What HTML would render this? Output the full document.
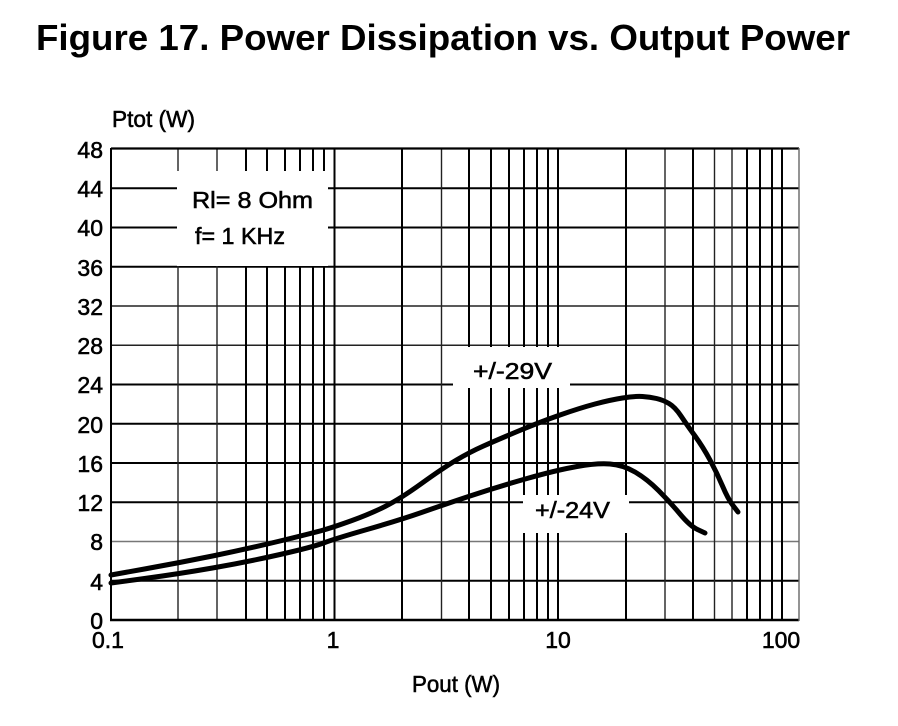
<!DOCTYPE html>
<html>
<head>
<meta charset="utf-8">
<style>
  html,body{margin:0;padding:0;background:#fff;}
  body{width:898px;height:726px;overflow:hidden;position:relative;}
  svg{position:absolute;left:0;top:0;}
  text{font-family:"Liberation Sans", Arial, sans-serif;fill:#000;}
  .lbl{stroke:#000;stroke-width:0.55px;}
</style>
</head>
<body>
<svg width="898" height="726" viewBox="0 0 898 726" xmlns="http://www.w3.org/2000/svg">
  <rect x="0" y="0" width="898" height="726" fill="#fff"/>

  <!-- Title -->
  <text x="36" y="50" font-size="36" font-weight="bold" textLength="814" lengthAdjust="spacingAndGlyphs">Figure 17. Power Dissipation vs. Output Power</text>

  <!-- Horizontal gridlines -->
  <g stroke="#000" stroke-width="2">
    <line x1="111" y1="580.75" x2="799" y2="580.75"/>
    <line x1="111" y1="502.25" x2="799" y2="502.25"/>
    <line x1="111" y1="463" x2="799" y2="463"/>
    <line x1="111" y1="423.75" x2="799" y2="423.75"/>
    <line x1="111" y1="384.5" x2="799" y2="384.5"/>
    <line x1="111" y1="266.75" x2="799" y2="266.75"/>
    <line x1="111" y1="227.5" x2="799" y2="227.5"/>
    <line x1="111" y1="188.25" x2="799" y2="188.25"/>
  </g>
  <g stroke="#222" stroke-width="1.4">
    <line x1="111" y1="345.25" x2="799" y2="345.25"/>
    <line x1="111" y1="306" x2="799" y2="306"/>
  </g>
  <line x1="111" y1="541.5" x2="799" y2="541.5" stroke="#777" stroke-width="1.6"/>

  <!-- Vertical gridlines -->
  <g stroke="#000" stroke-width="2">
    <line x1="246" y1="149" x2="246" y2="620"/>
    <line x1="267" y1="149" x2="267" y2="620"/>
    <line x1="285" y1="149" x2="285" y2="620"/>
    <line x1="300" y1="149" x2="300" y2="620"/>
    <line x1="313" y1="149" x2="313" y2="620"/>
    <line x1="324" y1="149" x2="324" y2="620"/>
    <line x1="334.5" y1="149" x2="334.5" y2="620"/>
    <line x1="402" y1="149" x2="402" y2="620"/>
    <line x1="469" y1="149" x2="469" y2="620"/>
    <line x1="491" y1="149" x2="491" y2="620"/>
    <line x1="509" y1="149" x2="509" y2="620"/>
    <line x1="524" y1="149" x2="524" y2="620"/>
    <line x1="537" y1="149" x2="537" y2="620"/>
    <line x1="548" y1="149" x2="548" y2="620"/>
    <line x1="558" y1="149" x2="558" y2="620"/>
    <line x1="626" y1="149" x2="626" y2="620"/>
    <line x1="693" y1="149" x2="693" y2="620"/>
    <line x1="747" y1="149" x2="747" y2="620"/>
    <line x1="760" y1="149" x2="760" y2="620"/>
    <line x1="772" y1="149" x2="772" y2="620"/>
    <line x1="782" y1="149" x2="782" y2="620"/>
  </g>
  <g stroke="#222" stroke-width="1.4">
    <line x1="178" y1="149" x2="178" y2="620"/>
    <line x1="217" y1="149" x2="217" y2="620"/>
    <line x1="441.5" y1="149" x2="441.5" y2="620"/>
    <line x1="665" y1="149" x2="665" y2="620"/>
    <line x1="714.5" y1="149" x2="714.5" y2="620"/>
    <line x1="732" y1="149" x2="732" y2="620"/>
  </g>

  <!-- Borders -->
  <line x1="111" y1="148.5" x2="799" y2="148.5" stroke="#000" stroke-width="2.2"/>
  <line x1="110" y1="620" x2="799" y2="620" stroke="#000" stroke-width="2.4"/>
  <line x1="111" y1="148" x2="111" y2="621" stroke="#000" stroke-width="2"/>
  <line x1="799" y1="148" x2="799" y2="621" stroke="#666" stroke-width="1.4"/>

  <!-- White label boxes -->
  <rect x="177" y="171" width="151" height="95" fill="#fff"/>
  <rect x="453" y="347" width="117" height="41" fill="#fff"/>
  <rect x="523" y="495" width="106" height="38" fill="#fff"/>

  <!-- Curves -->
  <path d="M111,575 L144.5,569 Q178,563 212.5,556 Q247,549 280,541 Q313,533 323.5,530 Q334,527 352,520.5 Q370,514 385,506.5 Q400,499 421.5,483.5 Q443,468 456.5,460 Q470,452 483.5,446 Q497,440 518.5,431 Q540,422 560,415 Q580,408 595,404 Q610,400 622.5,398 Q635,396 642.5,396.5 Q650,397 656.5,398.5 Q663,400 669,403.5 Q675,407 681,416 Q687,425 695,436 Q703,447 710,460 Q717,473 722.5,486 Q728,499 733,505.5 L738,512"
        fill="none" stroke="#000" stroke-width="5" stroke-linecap="round" stroke-linejoin="round"/>
  <path d="M111,583 L144.5,578.5 Q178,574 212.5,568 Q247,562 280,554.5 Q313,547 323.5,543 Q334,539 367,529.5 Q400,520 421.5,512.5 Q443,505 470,496 Q497,487 527,478.5 Q557,470 577,466.5 Q597,463 610,464 Q623,465 635,472 Q647,479 658.5,490.5 Q670,502 680,514 Q690,526 697.5,529.5 L705,533"
        fill="none" stroke="#000" stroke-width="5" stroke-linecap="round" stroke-linejoin="round"/>

  <!-- Legend text -->
  <text class="lbl" x="192" y="208" font-size="23" textLength="121" lengthAdjust="spacingAndGlyphs">Rl= 8 Ohm</text>
  <text class="lbl" x="195" y="244" font-size="23" textLength="90" lengthAdjust="spacingAndGlyphs">f= 1 KHz</text>
  <text class="lbl" x="473" y="379" font-size="23" textLength="79" lengthAdjust="spacingAndGlyphs">+/-29V</text>
  <text class="lbl" x="535" y="518" font-size="23" textLength="75" lengthAdjust="spacingAndGlyphs">+/-24V</text>

  <!-- Axis titles -->
  <text class="lbl" x="112" y="127" font-size="23" textLength="83" lengthAdjust="spacingAndGlyphs">Ptot (W)</text>
  <text class="lbl" x="412" y="692" font-size="23" textLength="88" lengthAdjust="spacingAndGlyphs">Pout (W)</text>

  <!-- Y tick labels -->
  <g class="lbl" font-size="23" text-anchor="end">
    <text x="103" y="158">48</text>
    <text x="103" y="197">44</text>
    <text x="103" y="236">40</text>
    <text x="103" y="276">36</text>
    <text x="103" y="315">32</text>
    <text x="103" y="354">28</text>
    <text x="103" y="393">24</text>
    <text x="103" y="433">20</text>
    <text x="103" y="472">16</text>
    <text x="103" y="511">12</text>
    <text x="103" y="550">8</text>
    <text x="103" y="590">4</text>
    <text x="103" y="629">0</text>
  </g>

  <!-- X tick labels -->
  <g class="lbl" font-size="23" text-anchor="middle">
    <text x="108" y="648">0.1</text>
    <text x="333" y="648">1</text>
    <text x="558" y="648">10</text>
    <text x="781" y="648">100</text>
  </g>
</svg>
</body>
</html>
